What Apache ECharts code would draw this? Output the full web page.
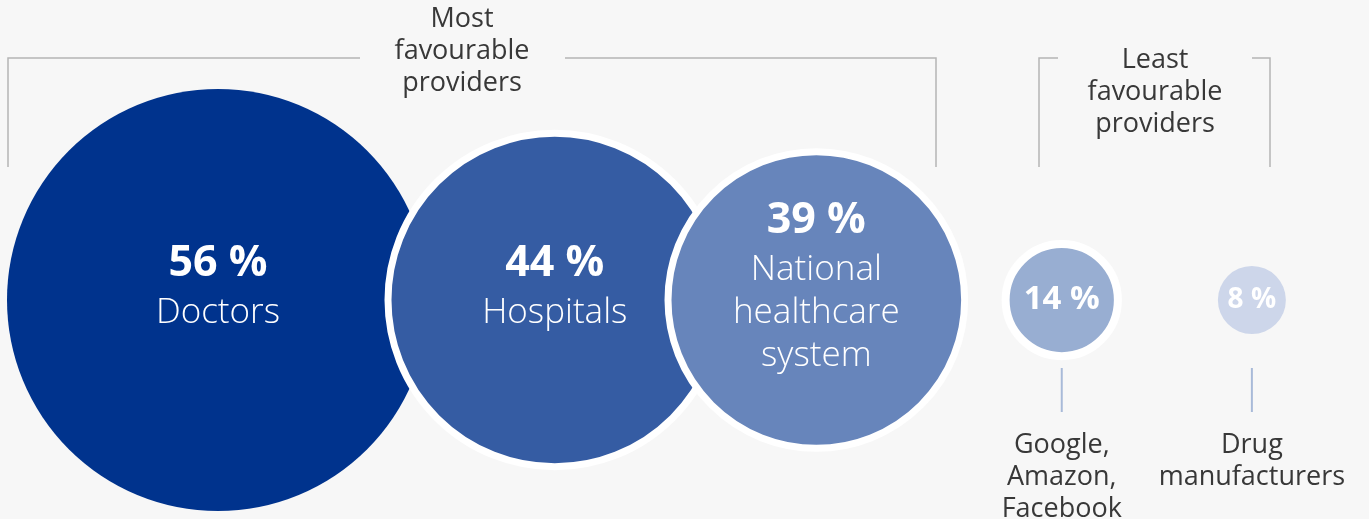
<!DOCTYPE html>
<html>
<head>
<meta charset="utf-8">
<script src="https://cdn.jsdelivr.net/npm/echarts@6/dist/echarts.min.js"></script>
<style>
  html, body { margin: 0; padding: 0; background: #f7f7f7; }
  #chart { width: 1369px; height: 519px; }
</style>
</head>
<body>
<div id="chart"></div>
<script>
// Providers and the share of respondents who trust each one (%)
const providers = ['Doctors', 'Hospitals', 'National healthcare system', 'Google, Amazon, Facebook', 'Drug manufacturers'];
const providerLabels = ['Doctors', 'Hospitals', 'National\nhealthcare\nsystem', 'Google,\nAmazon,\nFacebook', 'Drug\nmanufacturers'];
const shares = [56, 44, 39, 14, 8];
const groupTitles = ['Most\nfavourable\nproviders', 'Least\nfavourable\nproviders'];

// ---- presentation ----
const FONT = "'Open Sans', 'Noto Sans', sans-serif";
const fills = ['#00338d', '#355ca3', '#6785bb', '#98aed2', '#cdd6ea'];
const rings = [0, 7, 7, 8, 0];
const nameInside = [true, true, true, false, false];

// bubble radius scale (px per percentage point)
const radius = v => 4.5 + 3.6875 * v;

// pack bubbles left to right: overlap (negative) or gap (positive) between neighbours
const LEFT = 7;
const GAPS = [-41, -53.5, 41, 100];
const xs = [];
shares.forEach((v, i) => {
  if (i === 0) xs.push(LEFT + radius(v));
  else xs.push(xs[i - 1] + radius(shares[i - 1]) + radius(v) + GAPS[i - 1]);
});

const pct = v => v + ' %';

const bubbleData = shares.map((v, i) => ({
  name: providers[i],
  value: [xs[i], 0, v],
  itemStyle: { color: fills[i], borderColor: '#ffffff', borderWidth: rings[i], opacity: 1 },
  label: nameInside[i]
    ? { formatter: '{p|' + pct(v) + '}\n{n|' + providerLabels[i] + '}', offset: [0, -15] }
    : { formatter: '{' + (v >= 10 ? 'q' : 's') + '|' + pct(v) + '}' }
}));

const tickData = shares.map((v, i) => nameInside[i] ? null : {
  name: providers[i],
  value: [xs[i], -90],
  label: { formatter: providerLabels[i] }
}).filter(Boolean);

const chart = echarts.init(document.getElementById('chart'), null, { renderer: 'canvas' });

const bracket = pts => ({
  type: 'polyline', silent: true,
  shape: { points: pts },
  style: { stroke: '#b5b5b5', lineWidth: 1.5, fill: null }
});
const title = (x, y, text) => ({
  type: 'text', silent: true, x: x, y: y,
  style: {
    text: text, fill: '#383838', font: '400 27px ' + FONT,
    align: 'center', verticalAlign: 'top', lineHeight: 32
  }
});

chart.setOption({
  backgroundColor: '#f7f7f7',
  animation: false,
  grid: { left: 0, right: 0, top: 0, bottom: 0 },
  xAxis: { type: 'value', min: 0, max: 1369, show: false },
  yAxis: { type: 'value', min: -219, max: 300, show: false },
  series: [
    {
      type: 'scatter',
      symbol: 'circle',
      symbolSize: val => 2 * radius(val[2]),
      silent: true,
      emphasis: { disabled: true },
      itemStyle: { opacity: 1 },
      label: {
        show: true,
        position: 'inside',
        align: 'center',
        verticalAlign: 'middle',
        rich: {
          p: { color: '#ffffff', fontFamily: FONT, fontWeight: 700, fontSize: 43, lineHeight: 56, align: 'center' },
          n: { color: '#ffffff', fontFamily: FONT, fontWeight: 300, fontSize: 35, lineHeight: 43, align: 'center' },
          q: { color: '#ffffff', fontFamily: FONT, fontWeight: 700, fontSize: 33, lineHeight: 40 },
          s: { color: '#ffffff', fontFamily: FONT, fontWeight: 700, fontSize: 28, lineHeight: 36 }
        }
      },
      data: bubbleData
    },
    {
      type: 'scatter',
      symbol: 'rect',
      symbolSize: [2, 44],
      silent: true,
      emphasis: { disabled: true },
      itemStyle: { color: '#a8bad8', opacity: 1 },
      label: {
        show: true,
        position: 'bottom',
        distance: 17,
        color: '#383838',
        fontFamily: FONT,
        fontWeight: 400,
        fontSize: 27,
        lineHeight: 32,
        align: 'center'
      },
      data: tickData
    }
  ],
  graphic: [
    bracket([[8, 167], [8, 58], [360, 58]]),
    bracket([[565, 58], [936, 58], [936, 167]]),
    bracket([[1039, 167], [1039, 58], [1058, 58]]),
    bracket([[1252, 58], [1270, 58], [1270, 167]]),
    title(462, 3, groupTitles[0]),
    title(1155, 44, groupTitles[1])
  ]
});
</script>
</body>
</html>
